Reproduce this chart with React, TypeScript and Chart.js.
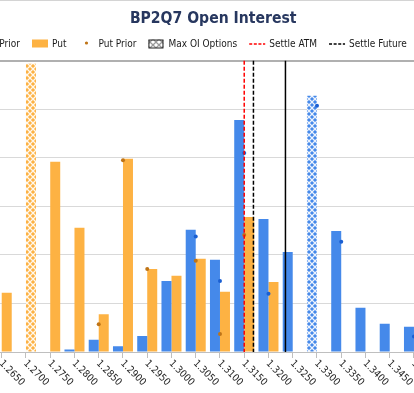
import React, { useEffect, useRef } from "react";
import { Chart, registerables } from "chart.js";

Chart.register(...registerables);

// ---- data ----
const strikes = [
  "1.2650", "1.2700", "1.2750", "1.2800", "1.2850", "1.2900", "1.2950", "1.3000", "1.3050",
  "1.3100", "1.3150", "1.3200", "1.3250", "1.3300", "1.3350", "1.3400", "1.3450", "1.3500", "1.3550",
];
const callOI = [null, null, null, 50, 250, 120, 330, 1460, 2520, 1900, 4780, 2740, 2060, 5280, 2490, 910, 580, 520, null];
const putOI = [1220, 5940, 3920, 2560, 780, 3980, 1710, 1570, 1920, 1240, 2780, 1440, null, null, null, null, null, null, null];
const callPrior = [null, null, null, null, null, null, null, null, 2380, 1460, 4100, 1200, null, 5070, 2270, null, null, 320, null];
const putPrior = [null, null, null, null, 570, 3950, 1710, null, 1880, 370, 2410, null, null, null, null, null, null, null, null];
const settleATM = 1.315;
const settleFuture = 1.3169;
const currentFuture = 1.3235;
const yMax = 6000;
const yStep = 1000;
const titleText = "BP2Q7 Open Interest";
const legendLabels = ["Call", "Call Prior", "Put", "Put Prior", "Max OI Options", "Settle ATM", "Settle Future"];

// ---- styles ----
const FONT = "'DejaVu Sans Condensed', 'DejaVu Sans', sans-serif";
const BLUE = "#4589EA";
const ORANGE = "#FDB243";
const CALL_DOT = "#1A5FD2";
const PUT_DOT = "#BF7417";
const SHIFT = 24;

function makePattern(color: string, line: string) {
  const c = document.createElement("canvas");
  c.width = 6;
  c.height = 6;
  const g = c.getContext("2d")!;
  g.fillStyle = color;
  g.fillRect(0, 0, 6, 6);
  g.strokeStyle = line;
  g.lineWidth = 1.3;
  g.beginPath();
  g.moveTo(-1, -1);
  g.lineTo(7, 7);
  g.moveTo(7, -1);
  g.lineTo(-1, 7);
  g.stroke();
  return g.createPattern(c, "repeat")!;
}

function argMax(arr: (number | null)[]) {
  let bi = -1;
  let bv = -Infinity;
  arr.forEach((v, i) => {
    if (v != null && v > bv) {
      bv = v;
      bi = i;
    }
  });
  return bi;
}

function strikeToPixel(chart: any, s: number) {
  const first = parseFloat(strikes[0]);
  const step = parseFloat(strikes[1]) - first;
  return chart.scales.x.getPixelForValue((s - first) / step);
}

const decorPlugin = {
  id: "decor",
  beforeDraw(chart: any) {
    const { ctx, width } = chart;
    ctx.save();
    ctx.fillStyle = "#ffffff";
    ctx.fillRect(0, 0, width, chart.height);
    ctx.strokeStyle = "#d4d4d4";
    ctx.lineWidth = 1;
    ctx.beginPath();
    ctx.moveTo(0, 0.5);
    ctx.lineTo(width, 0.5);
    ctx.stroke();
    ctx.restore();
  },
  afterDatasetsDraw(chart: any) {
    const { ctx, chartArea } = chart;
    const lines = [
      { v: settleATM, color: "#FF0000", dash: [4, 2] },
      { v: settleFuture, color: "#000000", dash: [4, 2] },
      { v: currentFuture, color: "#000000", dash: [] as number[] },
    ];
    ctx.save();
    lines.forEach((l) => {
      const x = strikeToPixel(chart, l.v);
      ctx.strokeStyle = l.color;
      ctx.lineWidth = 1.5;
      ctx.setLineDash(l.dash);
      ctx.beginPath();
      ctx.moveTo(x, chartArea.top);
      ctx.lineTo(x, chartArea.bottom);
      ctx.stroke();
    });
    ctx.restore();
  },
  afterDraw(chart: any) {
    const { ctx } = chart;
    const xs = chart.scales.x;
    // x labels, rotated clockwise
    ctx.save();
    ctx.font = `10px ${FONT}`;
    ctx.fillStyle = "#262626";
    ctx.textAlign = "left";
    ctx.textBaseline = "middle";
    strikes.forEach((s, i) => {
      const px = xs.getPixelForValue(i);
      ctx.save();
      ctx.translate(px - 1, xs.top + 10);
      ctx.rotate(Math.PI / 4);
      ctx.fillText(s, 0, 0);
      ctx.restore();
    });
    ctx.restore();

    // legend
    ctx.save();
    ctx.font = `10px ${FONT}`;
    ctx.textBaseline = "middle";
    ctx.textAlign = "left";
    const y = 44;
    const sym = 16, gap = 4, sep = 12;
    const widths = legendLabels.map((t) => sym + gap + ctx.measureText(t).width);
    let x = 32 + SHIFT - (widths[0] + sep + widths[1] + sep);
    const kinds = ["box", "dot", "box", "dot", "hatch", "dash", "dash"];
    const colors = [BLUE, CALL_DOT, ORANGE, PUT_DOT, "#999", "#FF0000", "#000000"];
    legendLabels.forEach((t, i) => {
      const k = kinds[i];
      ctx.save();
      if (k === "box") {
        ctx.fillStyle = colors[i];
        ctx.fillRect(x, y - 4.5, sym, 8);
      } else if (k === "dot") {
        ctx.fillStyle = colors[i];
        ctx.beginPath();
        ctx.arc(x + sym / 2, y - 1, 1.6, 0, Math.PI * 2);
        ctx.fill();
      } else if (k === "hatch") {
        ctx.fillStyle = makePattern("#ffffff", "#9a9a9a");
        ctx.fillRect(x, y - 4.5, 15, 8.5);
        ctx.strokeStyle = "#222";
        ctx.lineWidth = 1;
        ctx.strokeRect(x + 0.5, y - 4, 14, 8);
      } else {
        ctx.strokeStyle = colors[i];
        ctx.lineWidth = 1.3;
        ctx.setLineDash([3, 1.6]);
        ctx.beginPath();
        ctx.moveTo(x, y);
        ctx.lineTo(x + sym, y);
        ctx.stroke();
      }
      ctx.restore();
      ctx.fillStyle = "#1a1a1a";
      ctx.fillText(t, x + sym + gap, y);
      x += widths[i] + sep;
    });
    ctx.restore();
  },
};

export default function App() {
  const ref = useRef<HTMLCanvasElement | null>(null);

  useEffect(() => {
    const canvas = ref.current!;
    const ctx = canvas.getContext("2d")!;
    const maxCall = argMax(callOI);
    const maxPut = argMax(putOI);
    const callPat = makePattern(BLUE, "rgba(255,255,255,0.9)");
    const putPat = makePattern(ORANGE, "rgba(255,255,255,0.9)");

    const chart = new Chart(ctx, {
      type: "bar",
      data: {
        labels: strikes,
        datasets: [
          {
            type: "bar",
            label: legendLabels[0],
            data: callOI,
            backgroundColor: callOI.map((_, i) => (i === maxCall ? callPat : BLUE)),
            categoryPercentage: 0.825,
            barPercentage: 1,
            order: 2,
          },
          {
            type: "bar",
            label: legendLabels[2],
            data: putOI,
            backgroundColor: putOI.map((_, i) => (i === maxPut ? putPat : ORANGE)),
            categoryPercentage: 0.825,
            barPercentage: 1,
            order: 2,
          },
          {
            type: "line",
            label: legendLabels[1],
            data: callPrior,
            showLine: false,
            pointRadius: 2,
            pointBackgroundColor: CALL_DOT,
            pointBorderWidth: 0,
            order: 1,
          },
          {
            type: "line",
            label: legendLabels[3],
            data: putPrior,
            showLine: false,
            pointRadius: 2,
            pointBackgroundColor: PUT_DOT,
            pointBorderWidth: 0,
            order: 1,
          },
        ] as any,
      },
      options: {
        animation: false,
        responsive: false,
        devicePixelRatio: 1,
        layout: { autoPadding: false, padding: { left: 0, right: 0.65, top: 0, bottom: 0 } },
        plugins: {
          legend: { display: false },
          tooltip: { enabled: false },
          title: {
            display: true,
            text: titleText,
            color: "#27375F",
            font: { family: FONT, size: 15.6, weight: "bold" },
            padding: { top: 10, bottom: 32 },
          },
        },
        scales: {
          x: {
            offset: true,
            grid: {
              offset: false,
              drawOnChartArea: false,
              drawTicks: true,
              tickLength: 6,
              color: "#bfbfbf",
            },
            border: { display: true, color: "#bfbfbf", width: 1 },
            ticks: { display: false },
            afterFit: (s: any) => {
              s.height = 41;
            },
          },
          y: {
            min: 0,
            max: yMax,
            ticks: { display: false, stepSize: yStep },
            border: { display: false },
            grid: {
              drawTicks: false,
              color: (c: any) => (c.tick && c.tick.value === yMax ? "#b0b0b0" : "#d9d9d9"),
              lineWidth: (c: any) => (c.tick && c.tick.value === yMax ? 2 : 1),
            },
            afterFit: (s: any) => {
              s.width = 13.6;
            },
          },
        },
      } as any,
      plugins: [decorPlugin],
    });
    return () => chart.destroy();
  }, []);

  return (
    <div style={{ position: "absolute", left: 0, top: 0, width: 414, height: 393, overflow: "hidden", background: "#fff" }}>
      <canvas ref={ref} width={475} height={393} style={{ position: "absolute", left: -SHIFT, top: 0 }} />
    </div>
  );
}
